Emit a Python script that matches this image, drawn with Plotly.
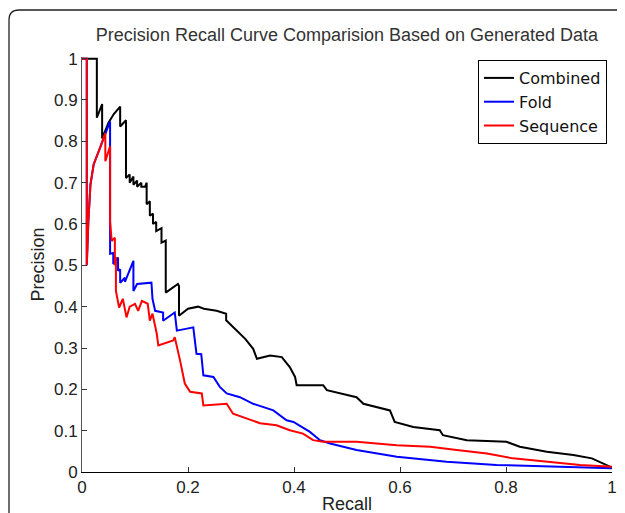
import plotly.graph_objects as go

# Combined (black)
comb_recall = [0, 0.028, 0.028, 0.038, 0.038, 0.050, 0.060, 0.072, 0.072, 0.083, 0.083, 0.090, 0.090,
               0.097, 0.097, 0.104, 0.104, 0.112, 0.112, 0.119, 0.122, 0.122, 0.128, 0.128, 0.134, 0.134,
               0.140, 0.140, 0.150, 0.150, 0.158, 0.158, 0.181, 0.183, 0.183, 0.190, 0.200, 0.219, 0.230,
               0.254, 0.272, 0.272, 0.292, 0.308, 0.323, 0.330, 0.355, 0.377, 0.392, 0.402, 0.405, 0.430,
               0.455, 0.462, 0.490, 0.518, 0.531, 0.581, 0.590, 0.625, 0.675, 0.681, 0.726, 0.801, 0.826,
               0.877, 0.927, 0.962, 0.996, 1.0]
comb_prec = [1.0, 1.0, 0.857, 0.89, 0.807, 0.845, 0.866, 0.884, 0.836, 0.851, 0.711, 0.72, 0.70,
             0.715, 0.695, 0.705, 0.69, 0.70, 0.69, 0.69, 0.70, 0.648, 0.655, 0.62, 0.625, 0.60,
             0.605, 0.583, 0.59, 0.555, 0.56, 0.434, 0.455, 0.45, 0.378, 0.385, 0.395, 0.40, 0.395,
             0.39, 0.383, 0.367, 0.342, 0.322, 0.298, 0.274, 0.282, 0.278, 0.254, 0.23, 0.21, 0.21,
             0.21, 0.198, 0.19, 0.181, 0.165, 0.149, 0.121, 0.109, 0.101, 0.089, 0.077, 0.073, 0.061,
             0.049, 0.041, 0.033, 0.013, 0.012]

# Fold (blue)
fold_recall = [0, 0.009, 0.009, 0.012, 0.016, 0.022, 0.034, 0.044, 0.053, 0.053, 0.053, 0.059, 0.059,
               0.068, 0.068, 0.072, 0.072, 0.081, 0.081, 0.097, 0.097, 0.104, 0.131, 0.133, 0.138,
               0.153, 0.153, 0.175, 0.179, 0.210, 0.216, 0.225, 0.229, 0.248, 0.260, 0.273, 0.298,
               0.323, 0.361, 0.386, 0.399, 0.430, 0.449, 0.468, 0.518, 0.594, 0.688, 0.782, 1.0]
fold_prec = [1.0, 1.0, 0.5, 0.607, 0.696, 0.744, 0.784, 0.82, 0.848, 0.576, 0.528, 0.53, 0.503,
             0.519, 0.487, 0.49, 0.458, 0.47, 0.46, 0.511, 0.438, 0.455, 0.458, 0.419, 0.39,
             0.386, 0.366, 0.386, 0.342, 0.35, 0.286, 0.285, 0.234, 0.23, 0.206, 0.19, 0.181,
             0.165, 0.149, 0.125, 0.121, 0.097, 0.077, 0.069, 0.053, 0.037, 0.025, 0.017, 0.009]

# Sequence (red)
seq_recall = [0, 0.009, 0.009, 0.012, 0.016, 0.022, 0.034, 0.044, 0.044, 0.053, 0.053, 0.056, 0.062,
              0.062, 0.064, 0.064, 0.070, 0.077, 0.084, 0.090, 0.100, 0.106, 0.113, 0.124, 0.128,
              0.133, 0.141, 0.144, 0.172, 0.175, 0.185, 0.194, 0.204, 0.226, 0.229, 0.273, 0.285,
              0.311, 0.336, 0.367, 0.392, 0.417, 0.436, 0.455, 0.518, 0.594, 0.657, 0.707, 0.764,
              0.813, 0.877, 0.940, 1.0]
seq_prec = [1.0, 1.0, 0.5, 0.607, 0.696, 0.744, 0.784, 0.82, 0.752, 0.788, 0.607, 0.559, 0.567,
            0.50, 0.52, 0.438, 0.398, 0.419, 0.374, 0.40, 0.407, 0.39, 0.414, 0.407, 0.366,
            0.383, 0.335, 0.306, 0.318, 0.326, 0.27, 0.214, 0.194, 0.19, 0.161, 0.165, 0.141,
            0.129, 0.118, 0.113, 0.101, 0.093, 0.077, 0.073, 0.073, 0.065, 0.061, 0.053, 0.045,
            0.033, 0.025, 0.017, 0.013]

x_ticks = [0, 0.2, 0.4, 0.6, 0.8, 1]
x_tick_text = ["0", "0.2", "0.4", "0.6", "0.8", "1"]
y_ticks = [0, 0.1, 0.2, 0.3, 0.4, 0.5, 0.6, 0.7, 0.8, 0.9, 1]
y_tick_text = ["0", "0.1", "0.2", "0.3", "0.4", "0.5", "0.6", "0.7", "0.8", "0.9", "1"]

FONT = "Liberation Sans, Arial, sans-serif"

fig = go.Figure()
fig.add_trace(go.Scatter(x=comb_recall, y=comb_prec, mode="lines", name="Combined",
                         line=dict(color="#000000", width=2)))
fig.add_trace(go.Scatter(x=fold_recall, y=fold_prec, mode="lines", name="Fold",
                         line=dict(color="#0000FF", width=2)))
fig.add_trace(go.Scatter(x=seq_recall, y=seq_prec, mode="lines", name="Sequence",
                         line=dict(color="#FF0000", width=2)))

# The page body adds an 8px offset; layout is expressed in screen pixels.
OFF = 8
W, H = 625, 513
SX0, SX1, SY0, SY1 = 82, 612, 57, 472   # plot area in screen pixels
L, T = SX0 - OFF, SY0 - OFF
pw, ph = SX1 - SX0, SY1 - SY0
R, B = W - L - pw, H - T - ph

def px(sx):
    return (sx - SX0) / pw
def py(sy):
    return (SY1 - sy) / ph

x0, ytop, ybot, xr = px(9), py(10), py(530), px(640)
dx, dy = 10 / pw, 10 / ph
fig.add_shape(type="path", xref="paper", yref="paper",
              path=f"M {x0},{ybot} L {x0},{ytop - dy} Q {x0},{ytop} {x0 + dx},{ytop} L {xr},{ytop}",
              line=dict(color="#222222", width=1.3))

fig.update_layout(
    width=W, height=H,
    margin=dict(l=L, r=R, t=T, b=B, autoexpand=False),
    paper_bgcolor="white", plot_bgcolor="white",
    font=dict(family=FONT, size=17, color="#222222"),
    title=dict(text="Precision Recall Curve Comparision Based on Generated Data",
               x=(L + pw / 2) / W, xanchor="center", y=1 - (35 - OFF) / H, yanchor="middle",
               font=dict(size=18, color="#333333")),
    showlegend=True,
    legend=dict(x=px(607), xanchor="right", y=py(60), yanchor="top",
                bordercolor="#000000", borderwidth=1, bgcolor="white",
                font=dict(family="DejaVu Sans, sans-serif", size=16, color="#111111"),
                tracegroupgap=0, itemwidth=30),
)
fig.update_xaxes(range=[0, 1.0], tickvals=x_ticks, ticktext=x_tick_text,
                 ticks="inside", ticklen=5, tickcolor="#333333",
                 showline=True, linecolor="#000000", linewidth=1,
                 showgrid=False, zeroline=False, automargin=False,
                 title=dict(text="Recall", standoff=0, font=dict(size=18)))
fig.update_yaxes(range=[0, 1.004], tickvals=y_ticks, ticktext=y_tick_text,
                 ticks="inside", ticklen=5, tickcolor="#333333",
                 showline=True, linecolor="#555555", linewidth=1,
                 showgrid=False, zeroline=False, automargin=False,
                 title=dict(text="Precision", standoff=4, font=dict(size=18)))

fig.write_html("out.html")
